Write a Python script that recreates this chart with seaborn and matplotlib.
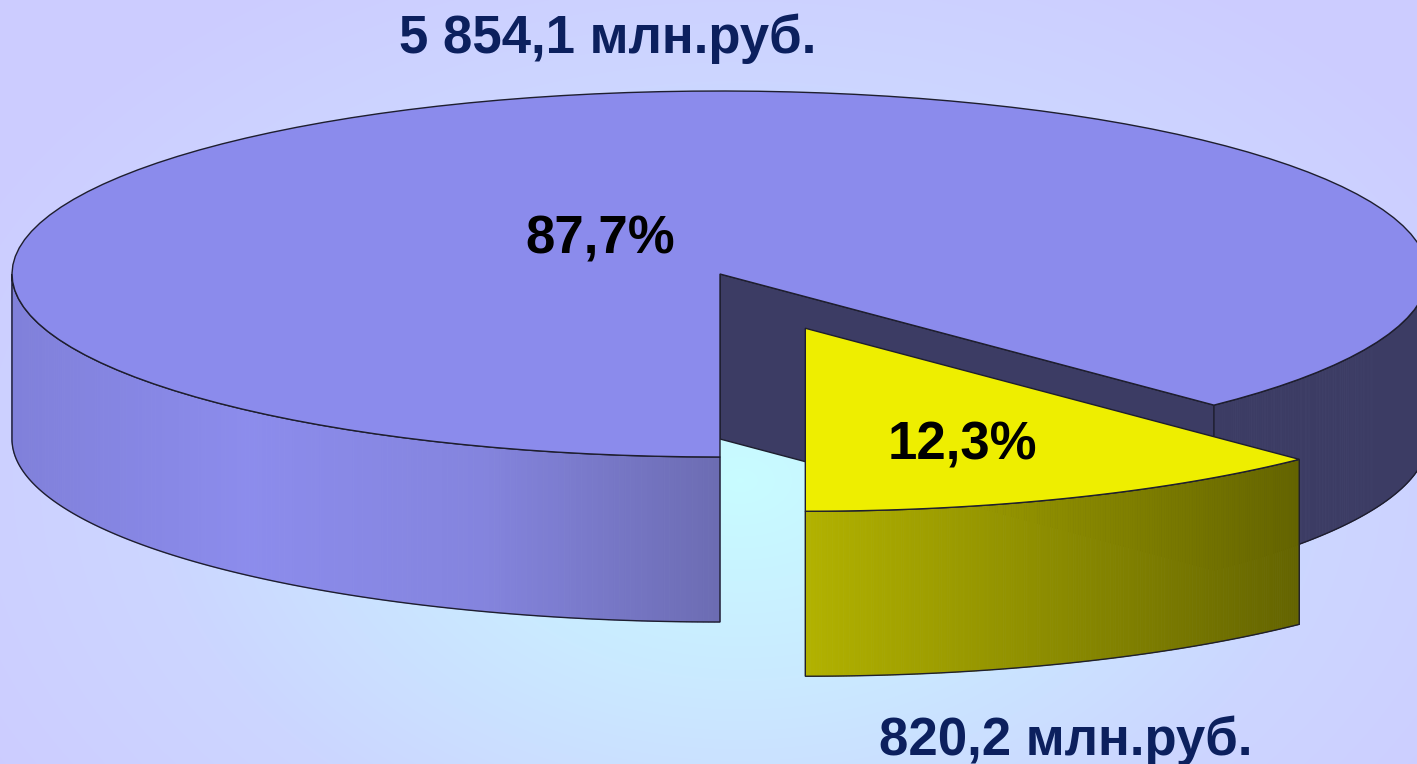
import numpy as np
import matplotlib.pyplot as plt
import seaborn as sns
from matplotlib.patches import Polygon
from matplotlib.collections import PolyCollection

# data (slices drawn counterclockwise starting from the front)
labels = ["820,2 млн.руб.", "5 854,1 млн.руб."]
values = [820.2, 5854.1]
explode = [0.32, 0.0]
top_colors = ["#EEEE00", "#8B8BEC"]
side_dark = ["#3C3C64", "#3C3C64"]
wall_stops = [["#B2B200", "#8C8C00", "#646400"],
              ["#8080DA", "#8C8CEC", "#8484DE", "#6C6CB2"]]

sns.set_style("white")
plt.rcParams['font.family'] = ['Liberation Sans', 'DejaVu Sans']

W, H = 1417, 764
fig = plt.figure(figsize=(W / 100, H / 100), dpi=100)
ax = fig.add_axes([0, 0, 1, 1])
ax.set_xlim(0, W)
ax.set_ylim(H, 0)
ax.axis("off")

# background gradient
yy, xx = np.mgrid[0:H, 0:W]
d = np.sqrt(((xx - 740) / 760.0) ** 2 + ((yy - 480) / 520.0) ** 2)
bg_cmap = sns.blend_palette(["#C8FCFF", "#CAEAFF", "#CCD6FF", "#CCCCFF"], as_cmap=True)
ax.imshow(np.clip(d / 1.15, 0, 1), cmap=bg_cmap, vmin=0, vmax=1,
          extent=[0, W, H, 0], aspect="auto", zorder=0)

# pie geometry
cx, cy, rx, ry, depth = 720, 274, 708, 183, 165
total = sum(values)
fracs = [v / total for v in values]
edge = "#1E1E2E"


def rim(t, off, dz=0):
    r = np.radians(t)
    return (cx + off[0] + rx * np.cos(r), cy + off[1] - ry * np.sin(r) + dz)


def arc(t0, t1, off, dz=0, n=120):
    ts = np.linspace(t0, t1, n)
    return [rim(t, off, dz) for t in ts]


def front_parts(t0, t1):
    parts = []
    for a, b in [(180, 360), (540, 720), (-180, 0)]:
        lo, hi = max(t0, a), min(t1, b)
        if hi > lo:
            parts.append((lo, hi))
    return parts


slices = []
start = -90.0
for i, f in enumerate(fracs):
    t0, t1 = start, start + 360 * f
    mid = np.radians((t0 + t1) / 2)
    off = (explode[i] * rx * np.cos(mid), -explode[i] * ry * np.sin(mid))
    slices.append((t0, t1, off))
    start = t1

# draw from back to front: big slice first, then exploded one
for order, i in enumerate([1, 0]):
    z = 10 * (order + 1)
    t0, t1, off = slices[i]
    c_top = (cx + off[0], cy + off[1])
    c_bot = (c_top[0], c_top[1] + depth)
    # radial cut faces
    if np.cos(np.radians(t0)) > 1e-6:
        face = [c_top, rim(t0, off), rim(t0, off, depth), c_bot]
        ax.add_patch(Polygon(face, closed=True, facecolor=side_dark[i],
                             edgecolor=edge, lw=1, zorder=z))
    if np.cos(np.radians(t1)) < -1e-6:
        face = [c_top, rim(t1, off), rim(t1, off, depth), c_bot]
        ax.add_patch(Polygon(face, closed=True, facecolor=side_dark[i],
                             edgecolor=edge, lw=1, zorder=z))
    # outer walls
    cmap = sns.blend_palette(wall_stops[i], as_cmap=True)
    for a, b in front_parts(t0, t1):
        ts = np.linspace(a, b, 200)
        top = [rim(t, off) for t in ts]
        bot = [rim(t, off, depth) for t in ts]
        xs = [p[0] for p in top]
        lit = np.cos(np.radians((a + b) / 2)) <= 0 or i == 0
        quads, cols = [], []
        x_lo, x_hi = min(xs), max(xs)
        for k in range(len(ts) - 1):
            quads.append([top[k], top[k + 1], bot[k + 1], bot[k]])
            if lit:
                u = ((xs[k] + xs[k + 1]) / 2 - x_lo) / max(x_hi - x_lo, 1)
                cols.append(cmap(u))
            else:
                cols.append(side_dark[i])
        ax.add_collection(PolyCollection(quads, facecolors=cols, edgecolors=cols,
                                         linewidths=0.6, zorder=z + 1))
        outline = top + bot[::-1]
        ax.add_patch(Polygon(outline, closed=True, fill=False,
                             edgecolor=edge, lw=1, zorder=z + 2))
    # top face
    top_face = [c_top] + arc(t0, t1, off)
    ax.add_patch(Polygon(top_face, closed=True, facecolor=top_colors[i],
                         edgecolor=edge, lw=1, zorder=z + 3))

# labels
navy = "#0C205E"
ax.text(608, 53, labels[1], ha="center", va="baseline", fontsize=38,
        fontweight="bold", color=navy, zorder=50)
ax.text(1066, 755, labels[0], ha="center", va="baseline", fontsize=38,
        fontweight="bold", color=navy, zorder=50)
pct = [f"{100 * f:.1f}".replace(".", ",") + "%" for f in fracs]
ax.text(600, 253, pct[1], ha="center", va="baseline", fontsize=38,
        fontweight="bold", color="black", zorder=50)
ax.text(962, 460, pct[0], ha="center", va="baseline", fontsize=38,
        fontweight="bold", color="black", zorder=50)

fig.savefig("out.png", dpi=100)
